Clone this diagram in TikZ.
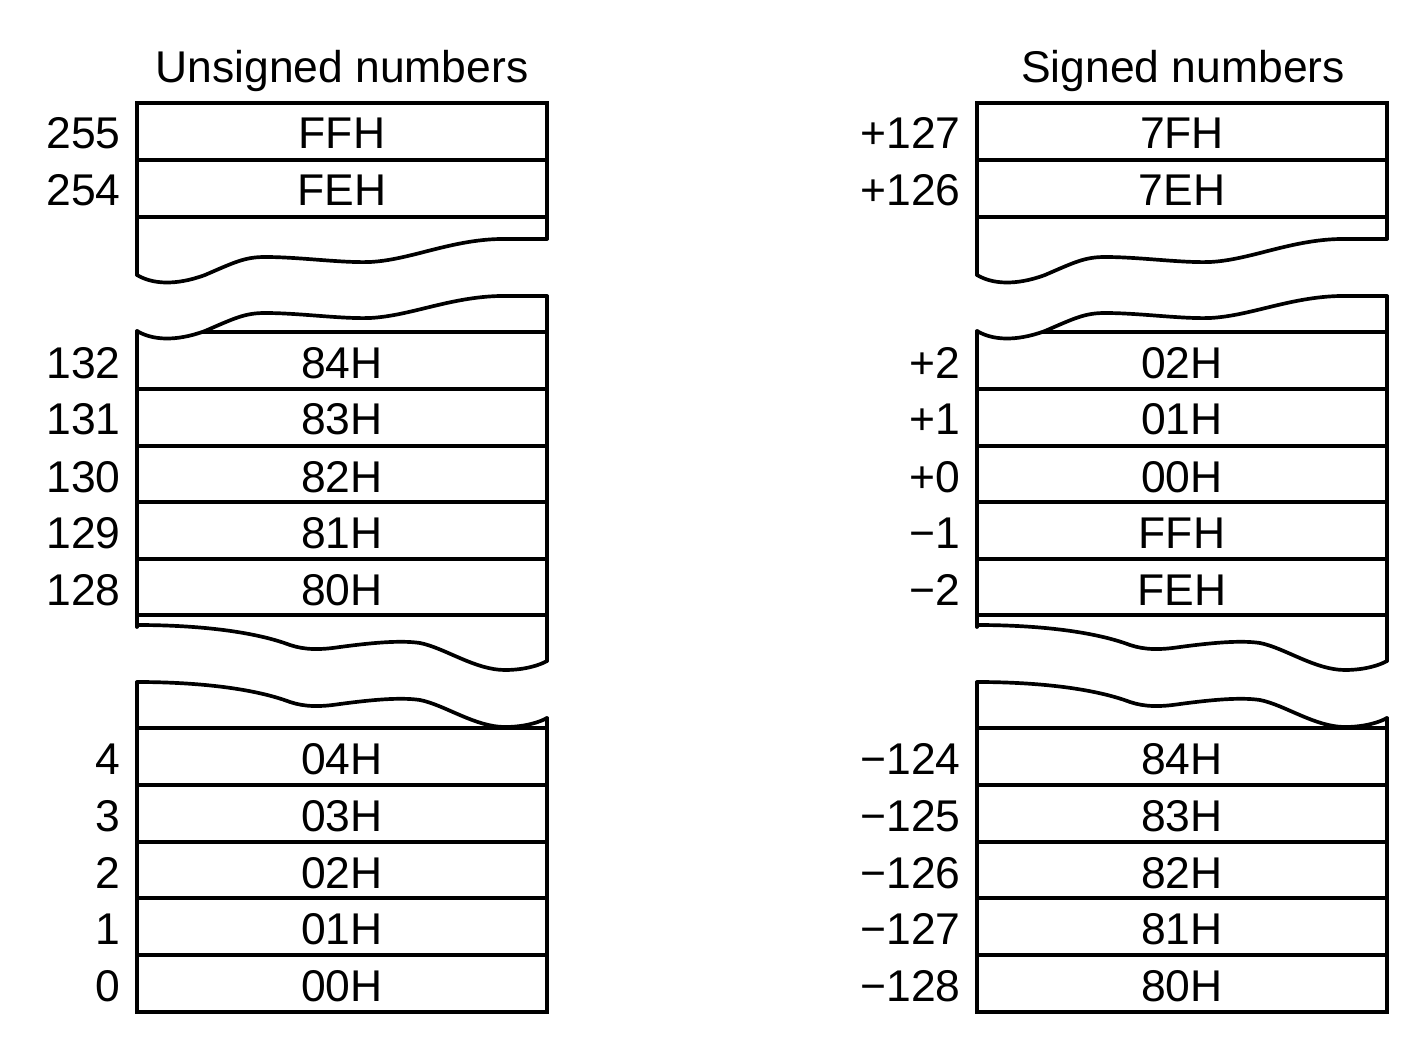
\documentclass[tikz,border=0pt]{standalone}
\usepackage{fontspec}
\setmainfont{Liberation Sans}

\tikzset{
  boxline/.style={line width=2.1pt, line cap=round},
  txt/.style={inner sep=0pt, font=\fontsize{25.3}{30}\selectfont},
  cell/.style={txt, anchor=base},
  num/.style={txt, anchor=base east},
  head/.style={txt, anchor=base},
  pics/memframe/.style={code={
    % upper block
    \draw[boxline] (137,275) -- (137,103) -- (547,103) -- (547,239);
    \draw[boxline] (137,160) -- (547,160) (137,217) -- (547,217);
    \draw[boxline] (137,275) .. controls (152,284) and (175,286) .. (205,275)
        .. controls (235,262) and (245,257) .. (265,257)
        .. controls (300,257) and (340,263) .. (370,262)
        .. controls (410,260) and (450,240) .. (500,239) -- (547,239);
    % middle block
    \draw[boxline] (137,331) .. controls (152,340) and (175,342) .. (205,331)
        .. controls (235,318) and (245,313) .. (265,313)
        .. controls (300,313) and (340,319) .. (370,318)
        .. controls (410,316) and (450,297) .. (500,296) -- (547,296);
    \begin{scope}
      \clip (137,331) .. controls (152,340) and (175,342) .. (205,331)
        .. controls (235,318) and (245,313) .. (265,313)
        .. controls (300,313) and (340,319) .. (370,318)
        .. controls (410,316) and (450,297) .. (500,296) -- (547,296)
        -- (547,400) -- (137,400) -- cycle;
      \draw[boxline, line cap=butt] (130,332) -- (547,332);
    \end{scope}
    \draw[boxline] (137,331) -- (137,627);
    \draw[boxline] (547,296) -- (547,661);
    \draw[boxline] (137,389) -- (547,389) (137,446) -- (547,446) (137,502) -- (547,502)
                   (137,559) -- (547,559) (137,615) -- (547,615);
    \draw[boxline] (137,625) .. controls (190,625) and (250,630) .. (290,645)
        .. controls (305,650) and (320,650) .. (340,647)
        .. controls (370,643) and (400,640) .. (420,643)
        .. controls (445,648) and (475,670) .. (505,670)
        .. controls (525,670) and (540,665) .. (547,661);
    % lower block
    \draw[boxline] (137,682) .. controls (190,682) and (250,687) .. (290,702)
        .. controls (305,707) and (320,707) .. (340,704)
        .. controls (370,700) and (400,697) .. (420,700)
        .. controls (445,705) and (475,727) .. (505,727)
        .. controls (525,727) and (540,722) .. (547,718);
    \draw[boxline] (137,682) -- (137,1012) -- (547,1012) -- (547,718);
    \draw[boxline] (137,728) -- (547,728) (137,785) -- (547,785) (137,842) -- (547,842)
                   (137,898) -- (547,898) (137,955) -- (547,955);
  }}
}

\begin{document}
\begin{tikzpicture}[x=0.02cm, y=-0.02cm]
    \useasboundingbox (0,0) rectangle (1422,1050);
    \pic (uframe) at (0,0) {memframe};
    \pic (sframe) at (840,0) {memframe};

    % unsigned column
    \node[head] (uhead) at (342,83) {Unsigned numbers};
    \node[num] (u255) at (121,149) {255};
    \node[num] (u254) at (121,206) {254};
    \node[num] (u132) at (121,378) {132};
    \node[num] (u131) at (121,435) {131};
    \node[num] (u130) at (121,492) {130};
    \node[num] (u129) at (121,548) {129};
    \node[num] (u128) at (121,605) {128};
    \node[num] (u4) at (121,774) {4};
    \node[num] (u3) at (121,831) {3};
    \node[num] (u2) at (121,888) {2};
    \node[num] (u1) at (121,944) {1};
    \node[num] (u0) at (121,1001) {0};
    \node[cell] (uFF) at (342,149) {FFH};
    \node[cell] (uFE) at (342,206) {FEH};
    \node[cell] (u84) at (342,378) {84H};
    \node[cell] (u83) at (342,435) {83H};
    \node[cell] (u82) at (342,492) {82H};
    \node[cell] (u81) at (342,548) {81H};
    \node[cell] (u80) at (342,605) {80H};
    \node[cell] (u04) at (342,774) {04H};
    \node[cell] (u03) at (342,831) {03H};
    \node[cell] (u02) at (342,888) {02H};
    \node[cell] (u01) at (342,944) {01H};
    \node[cell] (u00) at (342,1001) {00H};

    % signed column
    \node[head] (shead) at (1183,83) {Signed numbers};
    \node[num] (s127) at (961,149) {+127};
    \node[num] (s126) at (961,206) {+126};
    \node[num] (s2) at (961,378) {+2};
    \node[num] (s1) at (961,435) {+1};
    \node[num] (s0) at (961,492) {+0};
    \node[num] (sm1) at (961,548) {−1};
    \node[num] (sm2) at (961,605) {−2};
    \node[num] (sm124) at (961,774) {−124};
    \node[num] (sm125) at (961,831) {−125};
    \node[num] (sm126) at (961,888) {−126};
    \node[num] (sm127) at (961,944) {−127};
    \node[num] (sm128) at (961,1001) {−128};
    \node[cell] (s7F) at (1182,149) {7FH};
    \node[cell] (s7E) at (1182,206) {7EH};
    \node[cell] (s02) at (1182,378) {02H};
    \node[cell] (s01) at (1182,435) {01H};
    \node[cell] (s00) at (1182,492) {00H};
    \node[cell] (sFF) at (1182,548) {FFH};
    \node[cell] (sFE) at (1182,605) {FEH};
    \node[cell] (s84) at (1182,774) {84H};
    \node[cell] (s83) at (1182,831) {83H};
    \node[cell] (s82) at (1182,888) {82H};
    \node[cell] (s81) at (1182,944) {81H};
    \node[cell] (s80) at (1182,1001) {80H};
\end{tikzpicture}
\end{document}
